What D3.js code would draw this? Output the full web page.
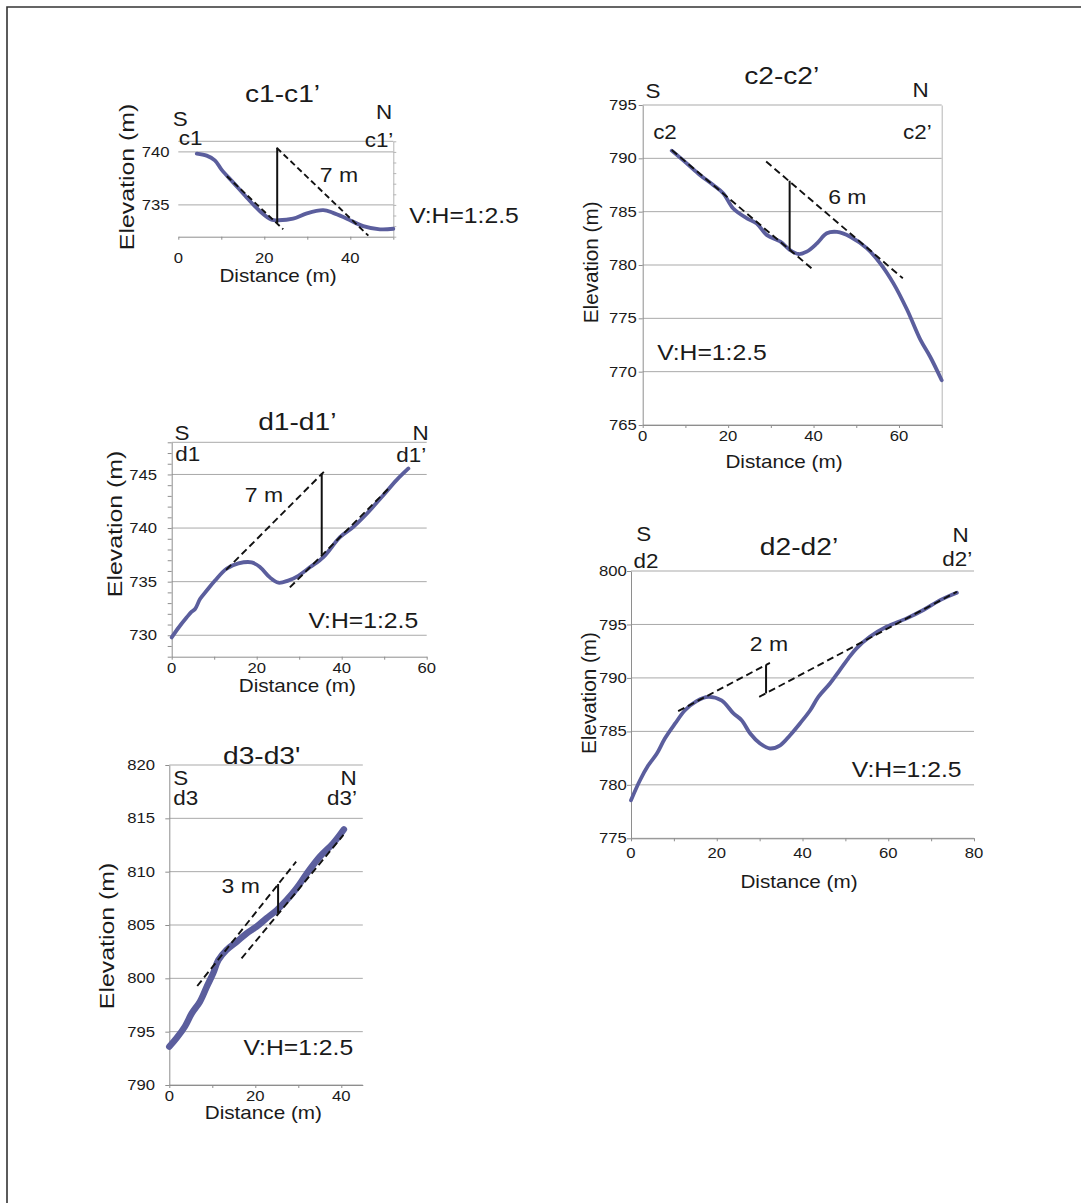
<!DOCTYPE html>
<html><head><meta charset="utf-8">
<script src="https://cdn.jsdelivr.net/npm/d3@7"></script>
<style>
html,body{margin:0;padding:0;background:#fff;}
svg{display:block;}
text{font-family:"Liberation Sans",Arial,Helvetica,sans-serif;fill:#1a1a1a;}
</style>
</head><body>
<svg id="chart" width="1081" height="1203"></svg>
<script>
// ---------- DATA ----------
// c1-c1'
const c1Dist = [4.3, 6.6, 8.5, 10.1, 12.8, 15.9, 19, 21.7, 23.3, 26.7, 29.9, 33.7, 36, 39.2, 43, 46.9, 50];
const c1Elev = [739.84, 739.65, 739.2, 738.3, 737.1, 735.7, 734.4, 733.6, 733.55, 733.7, 734.2, 734.5, 734.25, 733.7, 733.0, 732.7, 732.75];
const c1Dash = [[[11.3, 737.7], [24.4, 732.7]], [[22.9, 740.38], [44.2, 732.1]]];
const c1Offset = [23.0, 733.3, 740.4];
const c1YTicks = [735, 740];
const c1XTicks = [0, 10, 20, 30, 40, 50];
const c1XLabels = [0, 20, 40];
const c1Minor = [732, 733, 734, 735, 736, 737, 738, 739, 740, 741];

// c2-c2'
const c2Dist = [6.8, 10.3, 13.4, 16.5, 18.9, 21.2, 24.4, 26.7, 29.1, 32.2, 34.5, 36.5, 38.4, 40.8, 43.1, 45.5, 48.6, 52.5, 55.6, 58.7, 61.9, 65, 67.3, 70];
const c2Elev = [790.72, 789.53, 788.44, 787.5, 786.7, 785.3, 784.38, 783.9, 782.8, 782.2, 781.4, 781.03, 781.25, 782.03, 782.97, 783.1, 782.65, 781.56, 780.16, 778.28, 775.8, 773.0, 771.4, 769.2];
const c2Dash = [[[6.8, 790.78], [39.8, 779.6]], [[28.9, 789.7], [60.9, 778.75]]];
const c2Offset = [34.4, 781.47, 787.9];
const c2YTicks = [765, 770, 775, 780, 785, 790, 795];
const c2XTicks = [0, 10, 20, 30, 40, 50, 60, 70];
const c2XLabels = [0, 20, 40, 60];

// d1-d1'
const d1Dist = [0, 1.6, 3.5, 4.7, 5.5, 6.7, 8.2, 10.2, 12.9, 15.7, 18.8, 20.8, 23.1, 25.1, 27.4, 29.8, 32.5, 35.7, 39.6, 42.7, 45.9, 49.8, 52.9, 55.7];
const d1Elev = [729.8, 730.7, 731.65, 732.2, 732.45, 733.4, 734.15, 735.1, 736.2, 736.7, 736.8, 736.35, 735.4, 734.9, 735.1, 735.55, 736.34, 737.3, 739.15, 740.1, 741.34, 743.06, 744.47, 745.56];
const d1Dash = [[[12.8, 736.1], [35.8, 745.24]], [[27.8, 734.46], [51.4, 743.84]]];
const d1Offset = [35.3, 737.5, 745.1];
const d1YTicks = [730, 735, 740, 745];
const d1Minor = [728, 729, 730, 731, 732, 733, 734, 735, 736, 737, 738, 739, 740, 741, 742, 743, 744, 745, 746, 747, 748];
const d1XTicks = [0, 10, 20, 30, 40, 50, 60];
const d1XLabels = [0, 20, 40, 60];

// d2-d2'
const d2Dist = [0, 2.1, 4.0, 6.0, 7.9, 10.3, 12.6, 15.3, 18.0, 21.1, 23.9, 25.8, 27.8, 30.1, 32.4, 34.8, 37.1, 39.4, 41.8, 43.7, 46.4, 48.7, 50.7, 52.6, 55.7, 59.6, 64.3, 68.2, 72.1, 76.0];
const d2Elev = [778.56, 780.43, 781.8, 782.9, 784.33, 785.74, 786.98, 787.83, 788.23, 787.9, 786.68, 786.05, 784.8, 783.87, 783.4, 783.7, 784.64, 785.74, 786.98, 788.23, 789.48, 790.73, 791.83, 792.76, 793.85, 794.78, 795.57, 796.35, 797.28, 797.97];
const d2Dash = [[[11.0, 786.89], [32.4, 791.41]], [[29.9, 788.23], [76.0, 798.06]]];
const d2Offset = [31.5, 788.55, 791.2];
const d2YTicks = [775, 780, 785, 790, 795, 800];
const d2XTicks = [0, 10, 20, 30, 40, 50, 60, 70, 80];
const d2XLabels = [0, 20, 40, 60, 80];

// d3-d3'
const d3Dist = [0, 1.7, 3.65, 5.2, 7.1, 8.7, 10.2, 11.4, 13.3, 15.7, 18.0, 20.3, 22.6, 25.0, 27.3, 29.6, 32.0, 35.0, 38.1, 40.6];
const d3Elev = [793.6, 794.4, 795.5, 796.7, 797.8, 799.2, 800.47, 801.7, 802.66, 803.44, 804.22, 804.84, 805.63, 806.4, 807.34, 808.44, 809.84, 811.4, 812.66, 813.97];
const d3Dash = [[[6.5, 799.28], [29.5, 810.94]], [[16.8, 801.87], [40.5, 813.44]]];
const d3Offset = [25.3, 806.1, 808.84];
const d3YTicks = [790, 795, 800, 805, 810, 815, 820];
const d3XTicks = [0, 10, 20, 30, 40];
const d3XLabels = [0, 20, 40];

// ---------- STYLE / LAYOUT ----------
const GRID = '#a9a9a9', AXIS = '#8e8e8e', CURVE = '#5b5e9d';
const SX = 1.15;
const svg = d3.select('#chart');

svg.append('path').attr('d', 'M7,1203V7H1081').attr('fill', 'none')
  .attr('stroke', '#333').attr('stroke-width', 1.6);

function txt(g, s, x, y, size, anchor = 'middle', rot = 0, sx = SX) {
  return g.append('text')
    .attr('transform', `translate(${x},${y}) rotate(${rot}) scale(${sx},1)`)
    .attr('text-anchor', anchor).attr('dominant-baseline', 'central')
    .style('font-size', size + 'px').text(s);
}

const panels = [
  { name: 'c1', dist: c1Dist, elev: c1Elev, dash: c1Dash, off: c1Offset,
    xDomain: [0, 50], yDomain: [732, 741], xRange: [178.3, 393.3], yRange: [236.7, 141.3],
    grid: [735, 740, 741], yLabels: c1YTicks, yTickMarks: null, leftAxis: false,
    rightAxis: true, rightMinor: c1Minor, xTicks: c1XTicks, xLabels: c1XLabels,
    yLabelX: 169.5, xLabelY: 257.5, width: 3.8, dashArr: '6,3.5',
    title: 'c1-c1\u2019', titlePos: [282.5, 93.8],
    sPos: [180.3, 118.7], nPos: [384, 111.7], aLab: 'c1', aPos: [190.7, 137.7], bLab: 'c1\u2019', bPos: [379, 140],
    mLab: '7 m', mPos: [339, 175.3], vhPos: [464, 216], distPos: [278, 276], elevPos: [127, 177], elevSX: 1.2 },
  { name: 'c2', dist: c2Dist, elev: c2Elev, dash: c2Dash, off: c2Offset,
    xDomain: [0, 70], yDomain: [765, 795], xRange: [642.7, 941.7], yRange: [425, 105],
    grid: c2YTicks, yLabels: c2YTicks, yTickMarks: c2YTicks, leftAxis: true,
    rightAxis: true, rightMinor: null, xTicks: c2XTicks, xLabels: c2XLabels,
    yLabelX: 636.7, xLabelY: 436, width: 3.8, dashArr: '7,4',
    title: 'c2-c2\u2019', titlePos: [781.7, 76],
    sPos: [653, 90.7], nPos: [920.7, 90], aLab: 'c2', aPos: [665, 131.7], bLab: 'c2\u2019', bPos: [917.3, 131.7],
    mLab: '6 m', mPos: [847.3, 197.3], vhPos: [712, 352.3], distPos: [784, 462], elevPos: [590.7, 262.3], elevSX: 1 },
  { name: 'd1', dist: d1Dist, elev: d1Elev, dash: d1Dash, off: d1Offset,
    xDomain: [0, 60], yDomain: [728, 748], xRange: [171.7, 426.7], yRange: [656.7, 442.3],
    grid: [730, 735, 740, 745, 748], yLabels: d1YTicks, yTickMarks: d1Minor, leftAxis: true,
    rightAxis: false, rightMinor: null, xTicks: d1XTicks, xLabels: d1XLabels,
    yLabelX: 157, xLabelY: 668, width: 3.8, dashArr: '7,4',
    title: 'd1-d1\u2019', titlePos: [297.3, 421.7],
    sPos: [182, 433.3], nPos: [420.7, 433], aLab: 'd1', aPos: [187.7, 453.7], bLab: 'd1\u2019', bPos: [411.3, 454.7],
    mLab: '7 m', mPos: [264, 495], vhPos: [363.3, 620.7], distPos: [297.3, 686], elevPos: [115, 524], elevSX: 1.2 },
  { name: 'd2', dist: d2Dist, elev: d2Elev, dash: d2Dash, off: d2Offset,
    xDomain: [0, 80], yDomain: [775, 800], xRange: [631, 974], yRange: [838.3, 571],
    grid: d2YTicks, yLabels: d2YTicks, yTickMarks: d2YTicks, leftAxis: true,
    rightAxis: false, rightMinor: null, xTicks: d2XTicks, xLabels: d2XLabels,
    yLabelX: 626.7, xLabelY: 853.3, width: 3.8, dashArr: '7,4',
    title: 'd2-d2\u2019', titlePos: [799, 546.7],
    sPos: [643.7, 534], nPos: [960.7, 535.3], aLab: 'd2', aPos: [646, 561.3], bLab: 'd2\u2019', bPos: [957.3, 559.3],
    mLab: '2 m', mPos: [769, 644], vhPos: [906.7, 770], distPos: [799, 882], elevPos: [588, 693], elevSX: 1 },
  { name: 'd3', dist: d3Dist, elev: d3Elev, dash: d3Dash, off: d3Offset,
    xDomain: [0, 45], yDomain: [790, 820], xRange: [169.3, 362.8], yRange: [1085, 765],
    grid: d3YTicks, yLabels: d3YTicks, yTickMarks: d3YTicks, leftAxis: true,
    rightAxis: false, rightMinor: null, xTicks: d3XTicks, xLabels: d3XLabels,
    yLabelX: 155, xLabelY: 1096, width: 6.5, dashArr: '7,4',
    title: "d3-d3'", titlePos: [261.7, 755.7],
    sPos: [180.7, 778.3], nPos: [348.7, 778.3], aLab: 'd3', aPos: [185.7, 798.3], bLab: 'd3\u2019', bPos: [342, 798.3],
    mLab: '3 m', mPos: [240.7, 885.7], vhPos: [298.3, 1047.3], distPos: [263.3, 1112.5], elevPos: [107, 936], elevSX: 1.2 }
];

function drawPanel(p) {
  const x = d3.scaleLinear().domain(p.xDomain).range(p.xRange);
  const y = d3.scaleLinear().domain(p.yDomain).range(p.yRange);
  const g = svg.append('g').attr('class', 'panel-' + p.name);

  // gridlines
  g.selectAll('line.grid').data(p.grid).join('line').attr('class', 'grid')
    .attr('x1', x(p.xDomain[0])).attr('x2', x(p.xDomain[1]))
    .attr('y1', d => y(d)).attr('y2', d => y(d))
    .attr('stroke', GRID).attr('stroke-width', 1);

  // bottom axis
  const bx = g.append('g').attr('transform', `translate(0,${y(p.yDomain[0])})`)
    .call(d3.axisBottom(x).tickValues(p.xTicks).tickSize(3).tickSizeOuter(0).tickFormat(''));
  bx.select('.domain').attr('stroke', AXIS);
  bx.selectAll('.tick line').attr('stroke', AXIS);

  // left axis
  if (p.leftAxis) {
    const ly = g.append('g').attr('transform', `translate(${x(p.xDomain[0])},0)`)
      .call(d3.axisLeft(y).tickValues(p.yTickMarks).tickSize(4).tickSizeOuter(0).tickFormat(''));
    ly.select('.domain').attr('stroke', AXIS);
    ly.selectAll('.tick line').attr('stroke', AXIS);
  }
  // right axis
  if (p.rightAxis) {
    const ry = g.append('g').attr('transform', `translate(${x(p.xDomain[1])},0)`)
      .call(d3.axisRight(y).tickValues(p.rightMinor || []).tickSize(3).tickSizeOuter(0).tickFormat(''));
    ry.select('.domain').attr('stroke', '#b5b5b5');
    ry.selectAll('.tick line').attr('stroke', '#b5b5b5');
  }

  // tick labels
  p.yLabels.forEach(v => txt(g, String(v), p.yLabelX, y(v), 14.5, 'end'));
  p.xLabels.forEach(v => txt(g, String(v), x(v), p.xLabelY, 14.5, 'middle'));

  // profile curve
  const line = d3.line().x(d => x(d[0])).y(d => y(d[1])).curve(d3.curveCatmullRom.alpha(0.5));
  g.append('path').datum(d3.zip(p.dist, p.elev)).attr('d', line)
    .attr('fill', 'none').attr('stroke', CURVE).attr('stroke-width', p.width)
    .attr('stroke-linejoin', 'round').attr('stroke-linecap', 'round');

  // dashed reference lines
  g.selectAll('line.dash').data(p.dash).join('line').attr('class', 'dash')
    .attr('x1', d => x(d[0][0])).attr('y1', d => y(d[0][1]))
    .attr('x2', d => x(d[1][0])).attr('y2', d => y(d[1][1]))
    .attr('stroke', '#111').attr('stroke-width', 1.9).attr('stroke-dasharray', p.dashArr);

  // offset line
  g.append('line')
    .attr('x1', x(p.off[0])).attr('x2', x(p.off[0]))
    .attr('y1', y(p.off[1])).attr('y2', y(p.off[2]))
    .attr('stroke', '#111').attr('stroke-width', 2);

  // texts
  txt(g, p.title, p.titlePos[0], p.titlePos[1], 24.5);
  txt(g, 'S', p.sPos[0], p.sPos[1], 19.5);
  txt(g, 'N', p.nPos[0], p.nPos[1], 19.5);
  txt(g, p.aLab, p.aPos[0], p.aPos[1], 19.5);
  txt(g, p.bLab, p.bPos[0], p.bPos[1], 19.5);
  txt(g, p.mLab, p.mPos[0], p.mPos[1], 20);
  txt(g, 'V:H=1:2.5', p.vhPos[0], p.vhPos[1], 21.5);
  txt(g, 'Distance (m)', p.distPos[0], p.distPos[1], 18);
  txt(g, 'Elevation (m)', p.elevPos[0], p.elevPos[1], 20.7, 'middle', -90, p.elevSX);
}

panels.forEach(drawPanel);
</script>
</body></html>
